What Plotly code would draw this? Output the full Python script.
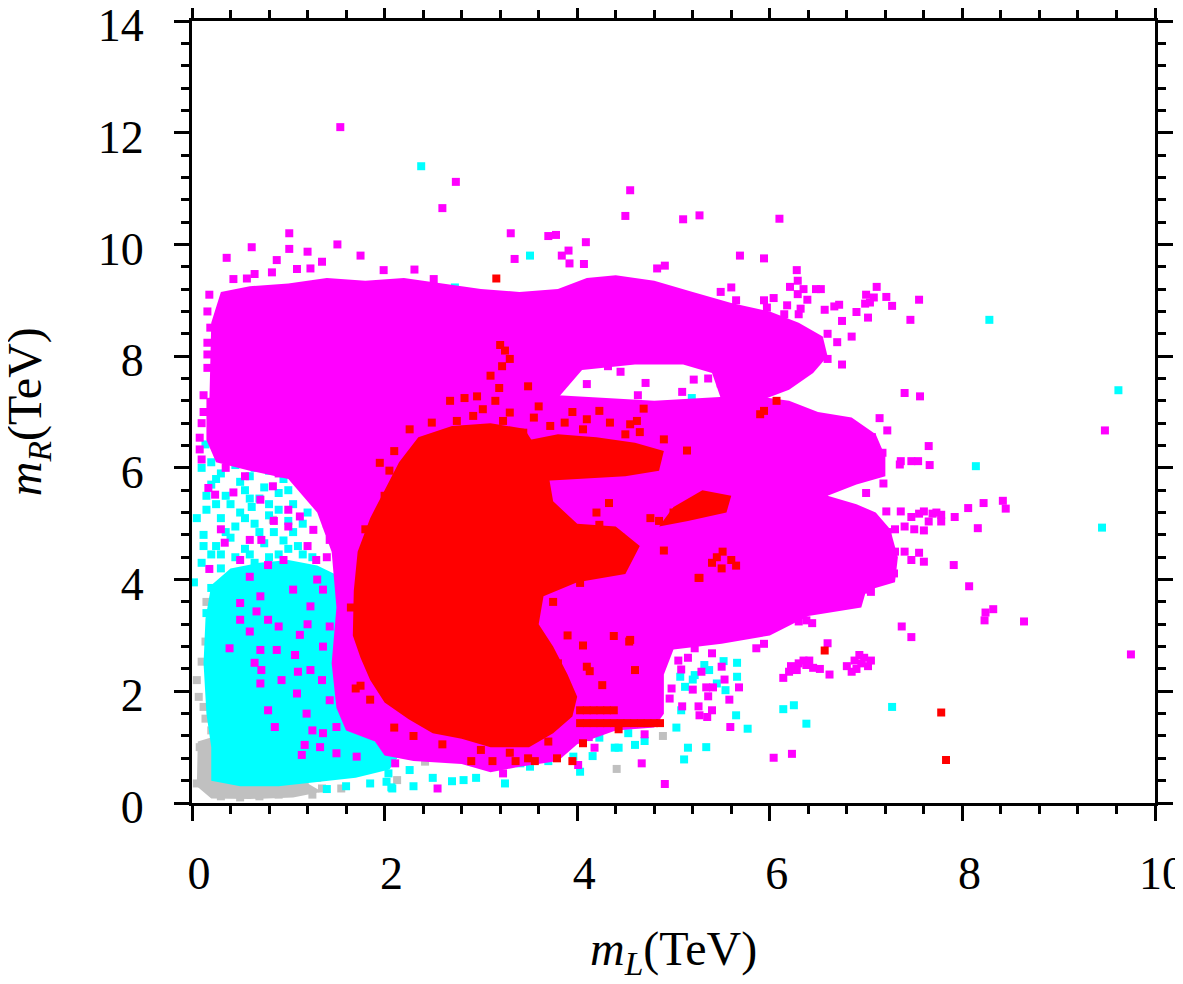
import plotly.graph_objects as go

# ---------------- data (TeV units) ----------------
X_TICKS = [0, 2, 4, 6, 8, 10]
Y_TICKS = [0, 2, 4, 6, 8, 10, 12, 14]

# Dense (fully covered) parts of each point population, as outline vertices (m_L, m_R)
GRAY_DENSE = [(0.05, 0.3), (0.2, 0.08), (0.6, 0.07), (1.05, 0.1), (1.35, 0.2), (1.1, 0.45),
              (0.6, 0.5), (0.4, 0.9), (0.25, 1.2), (0.06, 1.1)]

CYAN_DENSE = [(0.2, 0.4), (0.5, 0.3), (0.9, 0.3), (1.3, 0.38), (1.7, 0.45), (2.05, 0.6),
              (2.15, 0.85), (1.9, 1.1), (1.7, 1.5), (1.7, 2.5), (1.7, 3.5), (1.6, 4.0),
              (1.3, 4.25), (1.0, 4.35), (0.7, 4.3), (0.4, 4.2), (0.2, 3.9), (0.14, 3.3),
              (0.12, 2.5), (0.15, 1.6), (0.2, 1.0)]

MAGENTA_BODY = [(0.15, 7.25), (0.5, 7.3), (1.0, 7.25), (1.5, 7.3), (2.0, 7.35), (2.5, 7.4),
                (2.9, 7.45), (3.3, 7.4), (3.8, 7.3), (4.3, 7.25), (4.8, 7.2), (5.3, 7.25),
                (5.8, 7.3), (6.2, 7.2), (6.5, 7.0), (6.85, 6.9), (7.1, 6.6), (7.2, 6.2),
                (7.2, 5.85), (6.9, 5.7), (6.6, 5.5), (6.9, 5.35), (7.1, 5.2), (7.25, 4.9),
                (7.33, 4.4), (7.3, 3.95), (7.0, 3.8), (6.95, 3.5), (6.4, 3.35), (6.0, 3.0),
                (5.5, 2.85), (5.0, 2.75), (4.9, 2.3), (4.9, 1.6), (4.8, 1.35), (4.4, 1.3),
                (4.0, 1.05), (3.8, 0.75), (3.4, 0.65), (3.1, 0.55), (2.8, 0.7), (2.3, 0.75),
                (2.0, 0.85), (1.9, 1.1), (1.6, 1.3), (1.5, 1.7), (1.45, 2.5), (1.5, 3.5),
                (1.45, 4.5), (1.3, 5.2), (1.0, 5.8), (0.6, 5.95), (0.25, 6.1), (0.15, 6.5)]

MAGENTA_TOP = [(0.18, 7.15), (1.0, 7.15), (2.0, 7.2), (3.0, 7.25), (3.8, 7.25), (4.05, 7.75),
               (4.6, 7.85), (5.1, 7.85), (5.4, 7.7), (5.5, 7.2), (5.9, 7.2), (6.2, 7.4),
               (6.45, 7.7), (6.6, 8.0), (6.55, 8.35), (6.3, 8.6), (6.0, 8.8), (5.6, 8.95),
               (5.2, 9.15), (4.8, 9.35), (4.4, 9.45), (4.1, 9.4), (3.8, 9.2), (3.4, 9.15),
               (3.0, 9.2), (2.6, 9.3), (2.2, 9.4), (1.8, 9.35), (1.4, 9.4), (1.0, 9.3),
               (0.6, 9.25), (0.3, 9.15), (0.2, 8.6)]

RED_CORE = [(1.67, 3.0), (1.68, 3.8), (1.72, 4.5), (1.85, 5.1), (2.0, 5.6), (2.15, 6.1),
            (2.35, 6.55), (2.7, 6.75), (3.1, 6.8), (3.45, 6.7), (3.6, 6.3), (3.7, 5.9),
            (3.75, 5.4), (4.0, 5.0), (4.4, 4.95), (4.65, 4.6), (4.5, 4.1), (4.0, 3.95),
            (3.65, 3.7), (3.6, 3.2), (3.75, 2.8), (3.9, 2.3), (4.0, 1.9), (3.95, 1.55),
            (3.75, 1.25), (3.5, 1.0), (3.1, 1.0), (2.8, 1.15), (2.5, 1.25), (2.25, 1.5),
            (2.0, 1.8), (1.85, 2.2), (1.75, 2.6)]

RED_ARM = [(3.5, 5.75), (4.0, 5.8), (4.5, 5.85), (4.85, 5.95), (4.9, 6.3), (4.6, 6.45),
           (4.2, 6.55), (3.8, 6.6), (3.5, 6.5)]

RED_STREAK = [(4.85, 4.95), (5.15, 5.05), (5.55, 5.2), (5.6, 5.5), (5.3, 5.6), (5.0, 5.3)]

# Individually visible points
GRAY_PTS = [(0.43, 0.17), (0.62, 0.2), (0.79, 0.2), (1.02, 0.2), (1.17, 0.38), (1.35, 0.26),
            (1.55, 0.26), (1.09, 0.71), (0.14, 0.83), (0.12, 0.65), (0.11, 0.47), (0.12, 1.72),
            (0.14, 1.51), (0.1, 2.53), (0.14, 2.89), (0.19, 2.35), (0.45, 4.05), (0.84, 5.07),
            (0.98, 2.41), (0.58, 2.62), (2.42, 0.74), (2.13, 0.41), (4.89, 1.2), (4.41, 0.61),
            (0.3, 0.12), (0.5, 0.1), (0.7, 0.12), (0.9, 0.15), (0.25, 0.3), (0.2, 0.55),
            (0.35, 0.2), (1.25, 0.15), (0.05, 0.35), (0.08, 1.0), (0.2, 1.3), (0.07, 1.9),
            (0.3, 3.3), (0.15, 3.6), (0.05, 2.2), (1.3, 0.45), (1.45, 0.55), (0.65, 0.3),
            (0.95, 0.3)]

CYAN_PTS = [(0.14, 6.42), (0.1, 6.0), (0.3, 5.9), (0.45, 6.05), (0.6, 5.85), (0.8, 5.95),
            (0.95, 5.8), (1.1, 5.9), (0.2, 5.7), (0.35, 5.5), (0.55, 5.6), (0.7, 5.45),
            (0.9, 5.55), (1.05, 5.35), (0.15, 5.25), (0.3, 5.1), (0.5, 5.2), (0.65, 5.0),
            (0.8, 5.15), (1.0, 5.05), (1.2, 5.2), (0.12, 4.8), (0.25, 4.6), (0.4, 4.75),
            (0.55, 4.55), (0.75, 4.65), (0.9, 4.45), (1.1, 4.6), (1.25, 4.4), (0.1, 4.3),
            (0.3, 4.2), (0.5, 4.05), (0.65, 4.3), (0.85, 4.1), (1.05, 4.2), (1.2, 3.9),
            (0.02, 3.95), (0.2, 3.85), (0.4, 3.7), (0.6, 3.8), (0.8, 3.65), (1.0, 3.75),
            (1.3, 3.6), (0.15, 3.4), (1.15, 3.3), (1.3, 3.0), (1.4, 2.6), (1.45, 2.2),
            (1.3, 1.9), (2.08, 0.26), (2.02, 0.38), (2.7, 0.39), (2.82, 0.41), (2.26, 0.59),
            (2.04, 0.53), (3.41, 0.71), (3.51, 0.65), (3.96, 0.83), (4.03, 0.56), (4.06, 1.3),
            (4.43, 0.99), (4.39, 0.99), (4.23, 1.17), (4.16, 0.84), (4.7, 1.11), (4.6, 1.04),
            (4.53, 1.25), (4.82, 2.2), (5.08, 1.66), (5.03, 1.35), (5.15, 0.99), (5.34, 1.0),
            (5.11, 0.78), (5.69, 3.09), (5.66, 2.51), (5.66, 2.26), (5.52, 2.54), (5.54, 2.02),
            (5.45, 2.14), (5.32, 2.47), (5.37, 2.38), (5.22, 2.29), (5.07, 2.26), (5.12, 2.08),
            (5.2, 2.21), (5.65, 1.57), (5.77, 1.33), (6.14, 1.68), (6.25, 1.75), (6.38, 1.42),
            (7.27, 1.72), (4.94, 3.85), (5.19, 7.25), (5.08, 7.02), (3.51, 9.8), (2.73, 9.23),
            (2.38, 11.4), (8.28, 8.65), (9.62, 7.39), (8.14, 6.03), (9.45, 4.93), (2.3, 0.3),
            (1.85, 0.35), (1.6, 0.3), (2.5, 0.45), (2.95, 0.45), (3.7, 0.75), (3.25, 0.35),
            (1.4, 0.25), (2.07, 0.28), (0.25, 5.35), (0.45, 4.95), (0.62, 5.3), (0.85, 4.85),
            (1.15, 5.0), (0.05, 5.1), (0.3, 4.45), (0.6, 4.45), (1.0, 4.55),
            (0.2, 4.45), (0.45, 4.4), (0.8, 4.4), (1.15, 4.45), (0.35, 4.85), (0.7, 4.85),
            (0.95, 4.7), (0.55, 5.1), (0.9, 5.25), (0.15, 5.5), (0.4, 5.35), (0.75, 5.65),
            (1.0, 5.6), (0.25, 5.8), (0.5, 5.75), (0.65, 6.0), (0.2, 6.1), (0.38, 6.25),
            (0.55, 6.2), (1.15, 4.1), (0.12, 4.6), (1.05, 4.85), (0.8, 5.35), (0.6, 5.45)]

MAGENTA_PTS = [
    # above the top band
    (1.54, 12.1), (2.74, 11.12), (2.6, 10.65), (4.55, 10.97), (4.5, 10.51), (5.1, 10.45),
    (5.27, 10.52), (6.1, 10.46), (3.31, 10.2), (3.7, 10.15), (3.78, 10.17), (4.09, 10.04),
    (1.51, 10.0), (1.2, 9.87), (1.75, 9.8), (3.35, 9.74), (3.91, 9.89), (3.84, 9.8),
    (3.92, 9.66), (4.07, 9.65), (5.69, 9.8), (5.94, 9.75), (4.83, 9.57), (4.91, 9.62),
    (1.35, 9.69), (1.23, 9.57), (6.28, 9.54), (1.01, 10.2), (0.62, 9.95), (0.36, 9.76),
    (1.01, 9.92), (0.88, 9.72), (1.09, 9.56), (0.83, 9.5), (0.65, 9.47), (0.57, 9.39),
    (0.43, 9.38), (1.99, 9.54), (2.31, 9.55), (2.51, 9.38),
    # left edge of the bands
    (0.1, 6.15), (0.08, 6.33), (0.08, 6.54), (0.17, 5.64), (0.24, 5.52), (0.16, 8.24),
    (0.16, 8.03), (0.16, 7.79), (0.19, 8.51), (0.12, 7.0), (0.1, 6.8), (0.12, 7.3),
    (0.18, 9.1), (0.16, 8.8),
    # right end of the upper arc
    (6.21, 9.24), (6.35, 9.2), (6.48, 9.2), (6.53, 9.2), (7.11, 9.24), (7.0, 9.1),
    (7.08, 9.05), (6.99, 8.94), (7.04, 8.96), (6.9, 8.79), (7.02, 8.69), (6.72, 8.92),
    (6.67, 8.89), (6.57, 8.83), (6.75, 8.63), (6.29, 9.35), (6.29, 9.11), (6.39, 9.01),
    (6.3, 8.75), (6.15, 8.75), (5.94, 9.0), (6.04, 9.04), (5.97, 8.87), (6.18, 8.91),
    (6.32, 8.85), (5.65, 9.0), (5.49, 9.15), (5.6, 9.23), (7.21, 9.06), (7.55, 9.01),
    (7.27, 8.9), (7.46, 8.65), (6.6, 8.4), (6.7, 8.25), (6.85, 8.35), (6.6, 7.95), (6.75, 7.85),
    # below the arc
    (4.1, 7.5), (4.71, 7.52), (5.21, 7.58), (5.36, 7.6), (5.49, 7.51), (5.09, 7.36),
    (4.63, 7.3), (6.16, 7.54), (5.43, 7.82), (4.45, 7.72), (4.32, 7.82), (5.61, 7.86),
    # right side
    (7.4, 7.34), (7.56, 7.28), (7.14, 6.89), (7.22, 6.67), (7.06, 6.55), (9.48, 6.67),
    (7.65, 6.39), (7.17, 6.27), (7.36, 6.12), (7.47, 6.12), (7.54, 6.12), (7.35, 6.06),
    (7.66, 6.05), (7.18, 5.72), (7.0, 5.55), (7.21, 5.22), (7.36, 5.22), (7.55, 5.18),
    (7.6, 5.22), (7.69, 5.18), (7.73, 5.2), (7.78, 5.16), (7.47, 5.12), (7.92, 5.12),
    (8.06, 5.28), (8.22, 5.37), (8.42, 5.41), (8.45, 5.27), (7.65, 5.04), (7.78, 5.04),
    (7.3, 4.9), (7.4, 4.95), (7.5, 4.9), (7.6, 4.88), (7.22, 4.85), (8.16, 4.92),
    (7.12, 4.55), (7.2, 4.45), (7.3, 4.5), (7.4, 4.5), (7.15, 4.35), (7.25, 4.3),
    (7.55, 4.48), (7.47, 4.35), (7.6, 4.32), (7.91, 4.26), (8.07, 3.88), (8.24, 3.41),
    (8.32, 3.47), (8.23, 3.27), (8.64, 3.25), (7.37, 3.16), (7.47, 2.97), (9.75, 2.66),
    (7.29, 4.11), (7.21, 4.11), (7.0, 3.82), (7.05, 3.78), (6.82, 3.58), (6.3, 3.25),
    (6.38, 3.27), (6.44, 3.22), (6.1, 3.29), (6.14, 3.3), (5.96, 3.31), (6.6, 2.86),
    (6.14, 2.24), (6.62, 2.3), (5.86, 2.77), (5.94, 2.85),
    # two small islands
    (6.22, 2.45), (6.3, 2.5), (6.38, 2.47), (6.45, 2.42), (6.52, 2.4), (6.28, 2.38),
    (6.35, 2.55), (6.2, 2.35), (6.41, 2.55), (6.8, 2.45), (6.88, 2.55), (6.95, 2.5),
    (7.02, 2.45), (6.9, 2.4), (6.98, 2.6), (6.85, 2.35), (7.05, 2.55), (6.93, 2.65),
    # lower scatter
    (5.29, 2.93), (5.22, 2.77), (5.4, 2.68), (5.5, 2.44), (5.53, 2.21), (5.58, 1.85),
    (5.29, 2.35), (5.2, 2.03), (5.34, 2.07), (5.41, 2.07), (5.68, 2.07), (5.36, 1.91),
    (5.26, 1.73), (5.4, 1.66), (5.27, 1.57), (5.35, 1.54), (5.59, 1.36), (5.09, 1.73),
    (4.98, 2.05), (4.96, 1.87), (4.82, 2.23), (4.7, 1.23), (4.18, 0.99), (4.12, 1.18),
    (4.67, 0.71), (4.91, 0.34), (6.04, 0.81), (6.23, 0.88), (5.08, 2.39), (5.05, 2.55),
    (5.15, 2.6), (2.55, 0.26), (3.23, 0.53), (4.01, 0.68), (2.11, 0.71), (1.71, 0.83),
    (1.5, 0.89), (1.14, 0.86), (1.17, 1.04),
    # mixed into the cyan region
    (0.34, 4.66), (0.72, 4.71), (0.6, 4.05), (0.79, 4.26), (0.5, 3.58), (0.67, 3.43),
    (0.71, 3.7), (0.5, 3.28), (0.6, 3.07), (0.79, 3.28), (0.9, 3.16), (0.39, 2.77),
    (0.71, 2.74), (0.88, 2.74), (0.65, 2.51), (0.72, 2.38), (0.71, 2.14), (0.93, 2.2),
    (0.79, 1.66), (0.86, 1.36), (1.09, 1.96), (0.18, 4.19), (0.6, 4.71), (1.0, 4.95),
    (1.26, 4.89), (0.95, 4.35), (1.05, 3.82), (1.23, 3.52), (1.12, 3.01), (1.07, 2.65),
    (1.23, 2.38), (1.19, 1.6), (1.36, 1.25), (1.33, 1.0), (1.5, 1.36), (1.43, 1.84),
    (1.36, 2.8), (1.43, 3.16), (1.36, 3.82), (1.29, 4.35), (1.43, 4.71), (1.5, 5.19),
    (1.29, 5.43), (1.12, 5.13), (0.43, 5.56), (0.71, 5.43), (0.84, 5.67), (0.9, 5.9),
    (0.55, 5.85), (1.2, 5.7), (0.35, 6.0), (0.7, 6.05), (1.3, 4.0), (1.2, 3.2),
    (1.35, 2.2), (1.25, 1.3), (1.1, 2.35), (1.4, 4.4), (1.2, 4.6), (1.4, 5.0),
    (0.3, 4.9), (0.5, 4.35), (0.85, 5.05), (1.0, 5.25), (0.75, 6.1), (0.45, 6.15),
    (1.1, 6.0), (1.35, 5.6), (1.4, 5.8), (1.25, 5.95), (0.95, 6.1)]

RED_PTS = [(3.16, 9.39), (3.22, 7.82), (3.49, 7.46), (3.19, 7.43), (3.25, 8.1), (3.3, 7.95),
           (3.2, 8.2), (3.1, 7.65), (2.68, 7.2), (2.83, 7.25), (2.96, 7.28), (3.15, 7.2),
           (3.02, 7.05), (3.3, 6.99), (2.49, 6.81), (2.26, 6.69), (2.75, 6.84), (2.92, 6.93),
           (3.23, 6.84), (3.44, 6.63), (3.72, 6.75), (3.87, 6.81), (4.06, 6.69), (1.95, 6.09),
           (2.19, 5.7), (2.21, 5.46), (6.07, 7.2), (5.94, 7.02), (5.9, 6.96), (4.23, 7.02),
           (4.69, 7.06), (4.1, 6.87), (4.34, 6.81), (4.55, 6.78), (4.62, 6.84), (4.65, 6.64),
           (4.9, 6.51), (5.14, 6.31), (4.33, 5.37), (4.23, 4.98), (4.76, 5.1), (4.9, 4.52),
           (5.51, 4.5), (5.26, 4.03), (4.03, 3.94), (4.38, 2.99), (4.55, 2.92), (4.54, 2.89),
           (4.06, 2.82), (4.1, 2.44), (4.13, 2.36), (4.6, 2.38), (4.26, 2.11), (4.43, 1.32),
           (4.06, 1.07), (5.27, 4.03), (5.4, 4.3), (5.5, 4.2), (5.6, 4.35), (5.45, 4.4),
           (5.65, 4.25), (5.2, 5.35), (5.35, 5.45), (5.0, 5.2), (4.85, 5.05), (2.9, 0.75),
           (3.12, 0.75), (3.36, 0.75), (3.56, 0.75), (3.49, 0.8), (3.79, 0.8), (3.95, 0.75),
           (7.78, 1.62), (7.83, 0.77), (6.57, 2.73), (1.7, 2.05), (1.75, 2.1), (1.85, 1.85),
           (2.1, 1.35), (2.3, 1.2), (2.6, 1.05), (3.0, 0.95), (3.3, 0.9), (3.7, 1.1),
           (3.8, 2.5), (3.9, 3.0), (3.75, 3.6), (4.3, 4.6), (4.45, 4.75), (3.6, 5.5),
           (3.5, 5.9), (2.0, 5.5), (1.8, 4.9), (1.65, 3.5), (4.2, 5.2), (4.5, 6.6),
           (4.8, 6.2), (3.95, 7.0), (3.6, 7.1), (2.1, 6.3), (2.05, 5.95), (3.55, 6.9),
           # short horizontal runs near the bottom
           (4.03, 1.66), (4.1, 1.66), (4.17, 1.66), (4.24, 1.66), (4.31, 1.66), (4.38, 1.66),
           (4.03, 1.43), (4.1, 1.43), (4.17, 1.43), (4.24, 1.43), (4.31, 1.43), (4.38, 1.43),
           (4.45, 1.43), (4.52, 1.43), (4.59, 1.43), (4.66, 1.43), (4.73, 1.43), (4.8, 1.43),
           (4.86, 1.43)]

# ---------------- styling ----------------
GRAY = "#c0c0c0"
CYAN = "#00ffff"
MAGENTA = "#ff00ff"
RED = "#ff0000"
FONT = "Liberation Serif, Times New Roman, serif"


def xs(pairs):
    return [p[0] for p in pairs]


def ys(pairs):
    return [p[1] for p in pairs]


fig = go.Figure()


def add_region(pairs, color):
    fig.add_trace(go.Scatter(x=xs(pairs) + [pairs[0][0]], y=ys(pairs) + [pairs[0][1]],
                             mode="lines", fill="toself", fillcolor=color,
                             line=dict(width=0, color=color), hoverinfo="skip",
                             showlegend=False))


def add_points(pairs, color):
    fig.add_trace(go.Scatter(x=xs(pairs), y=ys(pairs), mode="markers",
                             marker=dict(symbol="square", size=8, color=color,
                                         line=dict(width=0)),
                             showlegend=False))


add_region(GRAY_DENSE, GRAY)
add_points(GRAY_PTS, GRAY)
add_region(CYAN_DENSE, CYAN)
add_points(CYAN_PTS, CYAN)
add_region(MAGENTA_BODY, MAGENTA)
add_region(MAGENTA_TOP, MAGENTA)
add_points(MAGENTA_PTS, MAGENTA)
add_region(RED_CORE, RED)
add_region(RED_ARM, RED)
add_region(RED_STREAK, RED)
add_points(RED_PTS, RED)

axis_common = dict(
    showgrid=False, zeroline=False, showline=True, linewidth=3, linecolor="black",
    mirror="ticks", ticks="outside", ticklen=15, tickwidth=3, tickcolor="black",
    automargin=False, ticklabeloverflow="allow",
    tickfont=dict(family=FONT, size=46, color="black"),
    minor=dict(ticks="outside", ticklen=8, tickwidth=3, tickcolor="black", dtick=0.4),
)

fig.update_xaxes(range=[0, 10], tickvals=X_TICKS, ticktext=[str(v) for v in X_TICKS],
                 ticklabelstandoff=13, ticklabelshift=7, **axis_common)
fig.update_yaxes(range=[0, 14], tickvals=Y_TICKS, ticktext=[str(v) for v in Y_TICKS],
                 ticklabelstandoff=21, ticklabelshift=4, **axis_common)

# the page adds an 8 px body margin, so the figure is drawn 8 px smaller and offset
fig.update_layout(
    width=1175, height=976, autosize=False,
    margin=dict(l=184, r=28, t=13, b=181, autoexpand=False),
    plot_bgcolor="white", paper_bgcolor="white",
    annotations=[
        dict(text="<i>m</i><sub><i>L</i></sub>(TeV)", xref="paper", yref="paper",
             x=0.5, y=-0.19, xanchor="center", yanchor="middle", showarrow=False,
             font=dict(family=FONT, size=48, color="black")),
        dict(text="<i>m</i><sub><i>R</i></sub>(TeV)", xref="paper", yref="paper",
             x=-0.17, y=0.5, xanchor="center", yanchor="middle", textangle=-90,
             showarrow=False, font=dict(family=FONT, size=48, color="black")),
    ],
)

fig.write_html("out.html")
